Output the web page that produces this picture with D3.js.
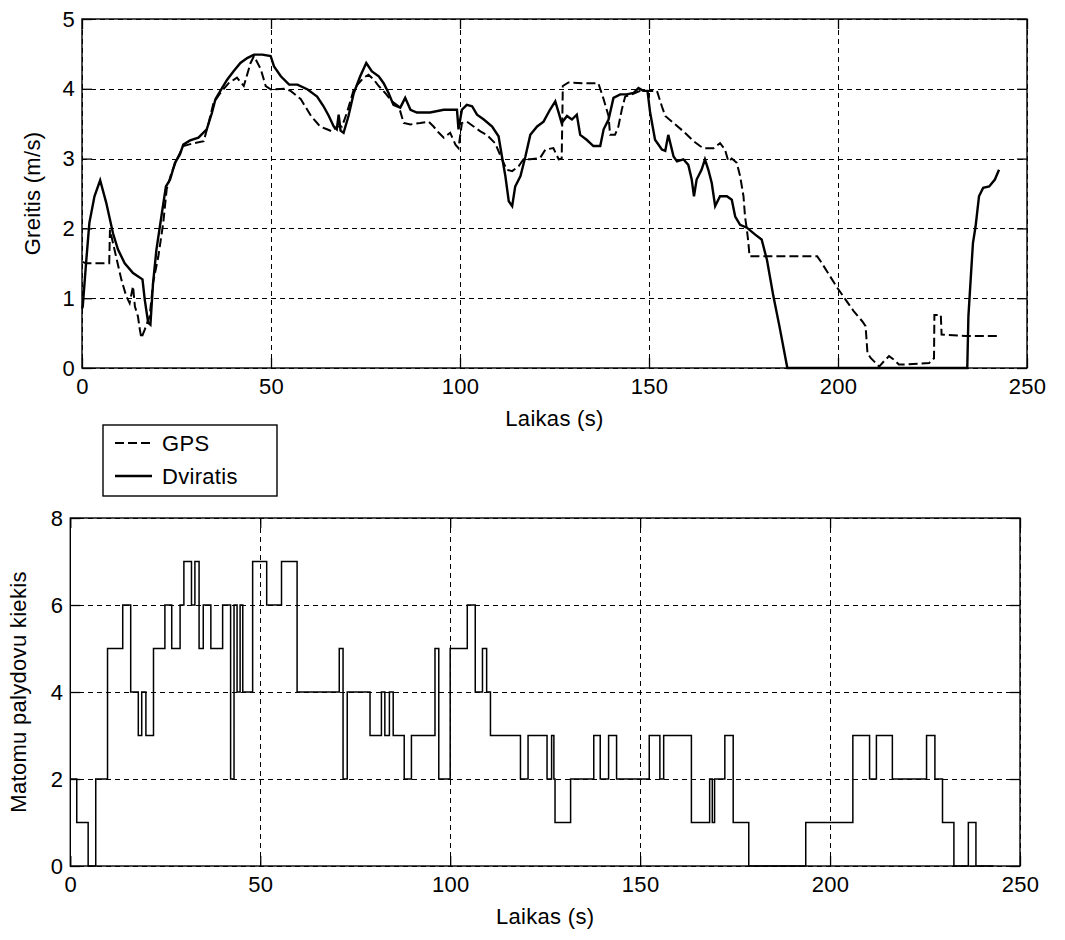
<!DOCTYPE html>
<html>
<head>
<meta charset="utf-8">
<script src="https://cdn.jsdelivr.net/npm/d3@7"></script>
<style>
  body { margin: 0; background: #fff; }
  text { font-family: "Liberation Sans", Arial, sans-serif; fill: #000; letter-spacing: 0.3px; }
</style>
</head>
<body>
<div id="canvas"></div>
<script>
"use strict";

// --- data ---
const timeTicks = [0, 50, 100, 150, 200, 250];
const speedTicks = [0, 1, 2, 3, 4, 5];
const satTicks = [0, 2, 4, 6, 8];

const gpsT = [0.2, 1, 4, 7.2, 7.4, 9, 10.4, 11.7, 12.6, 13.5, 14, 14.8, 15.3, 15.7, 16.6, 17.9, 18.8, 20.2, 21.5, 22.4,
  23.7, 25.1, 26.8, 29.5, 32.2, 33.5, 34.8, 36.6, 38.8, 41, 42.8, 44.6, 45.5, 47.3, 48.6, 50, 53.5, 55.2, 57.9, 60.6,
  62.2, 63, 64.8, 66.1, 67.5, 68.8, 70.1, 71.9, 73.2, 74.5, 75.8, 77.2, 78.5, 80.2, 82, 83.8, 85.1, 86.9, 89.5, 91.7,
  93, 94.4, 95.7, 97.4, 98.8, 99.6, 100.5, 101.8, 103.6, 105.4, 107.1, 109.3, 111.1, 112.4, 113.8, 115.5, 116.8, 118.6, 121.2, 122.6,
  124.7, 126.1, 126.9, 127.2, 128.7, 132.7, 136.6, 138, 139.3, 139.7, 141, 141.9, 142.8, 143.7, 145.5, 147.7, 150.3, 152.1, 153.4, 154.3,
  156.5, 159.1, 161.8, 163.5, 164.4, 167.1, 168.8, 170.1, 171, 171.9, 173.2, 174.1, 175, 175.4, 175.9, 176.3, 176.6, 187.3, 194.5, 195.4,
  197.6, 199.8, 202, 204.2, 206.4, 207.3, 207.8, 208.7, 210, 210.9, 212.2, 213.5, 214.8, 216.1, 217.9, 224.1, 225.4, 225.5, 227.2, 227.4,
  233.8, 242.2];
const gpsV = [1.52, 1.5, 1.5, 1.5, 1.98, 1.6, 1.27, 1.03, 0.93, 1.17, 0.88, 0.74, 0.55, 0.43, 0.55, 0.74, 1.22, 1.6, 2.08, 2.56,
  2.8, 2.99, 3.18, 3.22, 3.25, 3.51, 3.8, 3.94, 4.08, 4.16, 4.04, 4.37, 4.47, 4.28, 4.04, 3.99, 4.0, 3.97, 3.85, 3.61,
  3.51, 3.46, 3.42, 3.39, 3.46, 3.46, 3.66, 3.99, 4.08, 4.16, 4.2, 4.13, 4.04, 3.94, 3.82, 3.75, 3.51, 3.49, 3.51, 3.53,
  3.46, 3.37, 3.3, 3.37, 3.2, 3.15, 3.51, 3.53, 3.46, 3.39, 3.34, 3.22, 2.99, 2.84, 2.82, 2.89, 2.99, 2.99, 3.01, 3.13,
  3.15, 2.99, 3.0, 4.04, 4.09, 4.08, 4.08, 3.85, 3.61, 3.34, 3.34, 3.46, 3.7, 3.89, 3.92, 3.97, 3.97, 3.97, 3.75, 3.61,
  3.51, 3.39, 3.25, 3.18, 3.15, 3.15, 3.22, 3.13, 2.96, 3.0, 2.94, 2.75, 2.46, 2.17, 1.98, 1.79, 1.6, 1.6, 1.6, 1.53,
  1.34, 1.15, 0.98, 0.81, 0.67, 0.6, 0.21, 0.14, 0.07, 0.02, 0.1, 0.17, 0.12, 0.05, 0.05, 0.07, 0.14, 0.76, 0.76, 0.48,
  0.46, 0.46];

const bikeT = [0, 0.2, 1.07, 1.95, 3.3, 4.8, 6.4, 8.2, 9.5, 11.3, 13.5, 16, 16.6, 17.5, 18.1, 18.8, 19.7, 21, 22.2, 23.3,
  24.6, 25.9, 26.8, 28.6, 30.8, 33, 34.4, 35.3, 36.6, 38.4, 40.1, 41.9, 43.7, 45.5, 47.7, 49.9, 50.8, 52.6, 54.8, 57,
  59.7, 62.2, 63.9, 65.3, 66.6, 67.4, 67.9, 68.4, 69.2, 70.5, 71.9, 73.6, 75.2, 76.7, 78.5, 79.8, 81.1, 82.4, 84.2, 85.5,
  86.9, 88.6, 92.1, 95.7, 99.2, 99.6, 100.5, 101.8, 103.2, 104.5, 106.3, 108.5, 110.2, 111.1, 112, 112.9, 113.8, 114.6, 116, 117.3,
  118.6, 120.4, 122.1, 123.8, 125.2, 126.1, 126.9, 128.3, 129.6, 130.9, 131.8, 133.5, 135.3, 137.1, 138, 139.3, 140.6, 142.4, 144.1, 145.9,
  147.2, 148.5, 149.6, 150.3, 151.6, 153.4, 154.3, 155.1, 156.5, 157.4, 159.1, 160.4, 161.3, 161.9, 162.6, 163.9, 164.8, 165.7, 166.6, 167.5,
  168.8, 170.6, 171.9, 172.8, 174.1, 175.9, 178.1, 179.8, 181.2, 182.9, 184.5, 186.6, 234.2, 234.5, 235.1, 235.7, 236.4, 237.3, 238.4, 240,
  241.5, 242.6];
const bikeV = [0.85, 0.88, 1.5, 2.08, 2.46, 2.69, 2.37, 1.93, 1.7, 1.5, 1.36, 1.27, 0.98, 0.65, 0.62, 1.22, 1.7, 2.17, 2.6, 2.7,
  2.94, 3.06, 3.2, 3.26, 3.3, 3.42, 3.66, 3.85, 3.97, 4.13, 4.25, 4.37, 4.44, 4.49, 4.49, 4.47, 4.32, 4.18, 4.06, 4.06,
  3.99, 3.89, 3.75, 3.61, 3.46, 3.42, 3.63, 3.4, 3.37, 3.61, 3.94, 4.18, 4.37, 4.25, 4.18, 4.08, 3.94, 3.77, 3.73, 3.87,
  3.7, 3.66, 3.66, 3.7, 3.7, 3.42, 3.7, 3.77, 3.75, 3.63, 3.56, 3.46, 3.32, 3.03, 2.75, 2.39, 2.32, 2.6, 2.75, 3.03,
  3.34, 3.46, 3.53, 3.7, 3.82, 3.66, 3.51, 3.61, 3.56, 3.63, 3.34, 3.27, 3.18, 3.18, 3.42, 3.56, 3.87, 3.92, 3.92, 3.94,
  4.01, 3.97, 3.97, 3.66, 3.27, 3.13, 3.11, 3.34, 3.03, 2.96, 2.99, 2.91, 2.7, 2.46, 2.7, 2.84, 2.99, 2.84, 2.65, 2.32,
  2.46, 2.46, 2.41, 2.17, 2.05, 2.01, 1.91, 1.84, 1.55, 1.03, 0.6, 0, 0, 0.74, 1.27, 1.79, 2.03, 2.46, 2.58, 2.6,
  2.7, 2.84];

// satellites: value holds from each time until the next one
const satT = [0, 1.7, 4.7, 6.7, 9.8, 13.8, 15.9, 17.9, 18.8, 19.9, 21.9, 24.9, 26.7, 28.9, 29.9, 31.9, 32.8, 33.9, 35, 37,
  40.1, 42.2, 43.1, 43.9, 44.7, 45.4, 48, 51.7, 55.6, 59.7, 70.8, 71.8, 72.9, 78.9, 81.9, 82.8, 84, 85, 87.9, 89.8,
  96, 97, 100, 104.5, 106.6, 108.5, 109.6, 110.6, 118.5, 120.5, 125.5, 126.7, 127.3, 127.6, 131.7, 137.8, 139.5, 141.7, 143.8, 152.4,
  155.2, 156.2, 163.5, 168.3, 169, 169.6, 172.3, 174.5, 178.6, 193.6, 206, 210.4, 212.2, 216.4, 225.4, 227.6, 229.6, 232.6, 236.4, 238.4,
  243];
const satN = [2, 1, 0, 2, 5, 6, 4, 3, 4, 3, 5, 6, 5, 6, 7, 6, 7, 5, 6, 5,
  6, 2, 6, 4, 6, 4, 7, 6, 7, 4, 5, 2, 4, 3, 4, 3, 4, 3, 2, 3,
  5, 2, 5, 6, 4, 5, 4, 3, 2, 3, 2, 3, 2, 1, 2, 3, 2, 3, 2, 3,
  2, 3, 1, 2, 1, 2, 3, 1, 0, 1, 3, 2, 3, 2, 3, 2, 1, 0, 1, 0,
  0];

const svg = d3.select("#canvas").append("svg")
  .attr("width", 1065)
  .attr("height", 940);

svg.append("rect").attr("width", 1065).attr("height", 940).attr("fill", "white");

const FONT = 22;

function panel(box, yDomain, yTicks, yLabel) {
  const g = svg.append("g");
  const x = d3.scaleLinear().domain([0, 250]).range([box.left, box.right]);
  const y = d3.scaleLinear().domain(yDomain).range([box.bottom, box.top]);
  const w = box.right - box.left;
  const h = box.bottom - box.top;

  // dotted grid
  g.append("g")
    .attr("transform", "translate(0," + box.bottom + ")")
    .call(d3.axisBottom(x).tickValues(timeTicks).tickSize(-h).tickFormat(""))
    .call(a => a.select(".domain").remove())
    .selectAll("line").attr("stroke", "#000").attr("stroke-width", 1)
    .attr("stroke-dasharray", "5,4").attr("shape-rendering", "crispEdges");
  g.append("g")
    .attr("transform", "translate(" + box.left + ",0)")
    .call(d3.axisLeft(y).tickValues(yTicks).tickSize(-w).tickFormat(""))
    .call(a => a.select(".domain").remove())
    .selectAll("line").attr("stroke", "#000").attr("stroke-width", 1)
    .attr("stroke-dasharray", "5,4").attr("shape-rendering", "crispEdges");

  // inner tick marks on all four sides
  const tk = 10;
  const sides = [
    [d3.axisBottom(x).tickValues(timeTicks), "translate(0," + box.bottom + ")"],
    [d3.axisTop(x).tickValues(timeTicks), "translate(0," + box.top + ")"],
    [d3.axisLeft(y).tickValues(yTicks), "translate(" + box.left + ",0)"],
    [d3.axisRight(y).tickValues(yTicks), "translate(" + box.right + ",0)"]
  ];
  sides.forEach(([ax, tr]) => {
    g.append("g").attr("transform", tr)
      .call(ax.tickSize(-tk).tickFormat(""))
      .call(a => a.select(".domain").remove())
      .selectAll("line").attr("stroke", "#000").attr("stroke-width", 1.3);
  });

  // tick labels
  g.append("g")
    .attr("transform", "translate(0," + box.bottom + ")")
    .call(d3.axisBottom(x).tickValues(timeTicks).tickSize(0).tickPadding(10).tickFormat(d3.format("d")))
    .call(a => a.select(".domain").remove())
    .selectAll("text").attr("font-size", FONT).attr("font-family", null);
  g.append("g")
    .attr("transform", "translate(" + box.left + ",0)")
    .call(d3.axisLeft(y).tickValues(yTicks).tickSize(0).tickPadding(7).tickFormat(d3.format("d")))
    .call(a => a.select(".domain").remove())
    .selectAll("text").attr("font-size", FONT).attr("font-family", null);

  // frame
  g.append("rect")
    .attr("x", box.left).attr("y", box.top)
    .attr("width", w).attr("height", h)
    .attr("fill", "none").attr("stroke", "#000").attr("stroke-width", 1.4);

  // axis titles
  g.append("text")
    .attr("x", (box.left + box.right) / 2)
    .attr("y", box.bottom + 58)
    .attr("text-anchor", "middle")
    .attr("font-size", FONT)
    .text("Laikas (s)");
  g.append("text")
    .attr("transform", "translate(" + box.yLabelX + "," + (box.top + box.bottom) / 2 + ") rotate(-90)")
    .attr("text-anchor", "middle")
    .attr("font-size", FONT)
    .text(yLabel);

  return { g, x, y };
}

// --- top: speed ---
const speedPanel = panel({ left: 82, right: 1027, top: 19, bottom: 368, yLabelX: 40 }, [0, 5], speedTicks, "Greitis (m/s)");

const speedLine = d3.line().x(d => speedPanel.x(d[0])).y(d => speedPanel.y(d[1]));

speedPanel.g.append("path")
  .datum(gpsT.map((t, i) => [t, gpsV[i]]))
  .attr("d", speedLine)
  .attr("fill", "none").attr("stroke", "#000").attr("stroke-width", 2)
  .attr("stroke-dasharray", "9,4");

speedPanel.g.append("path")
  .datum(bikeT.map((t, i) => [t, bikeV[i]]))
  .attr("d", speedLine)
  .attr("fill", "none").attr("stroke", "#000").attr("stroke-width", 2.4);

// legend
const lg = svg.append("g");
lg.append("rect")
  .attr("x", 103).attr("y", 425).attr("width", 174).attr("height", 71)
  .attr("fill", "white").attr("stroke", "#000").attr("stroke-width", 1.4);
lg.append("line").attr("x1", 115).attr("x2", 152).attr("y1", 443).attr("y2", 443)
  .attr("stroke", "#000").attr("stroke-width", 2).attr("stroke-dasharray", "9,4");
lg.append("line").attr("x1", 115).attr("x2", 152).attr("y1", 476).attr("y2", 476)
  .attr("stroke", "#000").attr("stroke-width", 2.4);
lg.append("text").attr("x", 162).attr("y", 451).attr("font-size", FONT).text("GPS");
lg.append("text").attr("x", 162).attr("y", 484).attr("font-size", FONT).text("Dviratis");

// --- bottom: satellites ---
const satPanel = panel({ left: 70.3, right: 1020, top: 518, bottom: 866, yLabelX: 26 }, [0, 8], satTicks, "Matomu palydovu kiekis");

satPanel.g.append("path")
  .datum(satT.map((t, i) => [t, satN[i]]))
  .attr("d", d3.line().x(d => satPanel.x(d[0])).y(d => satPanel.y(d[1])).curve(d3.curveStepAfter))
  .attr("fill", "none").attr("stroke", "#000").attr("stroke-width", 1.5);
</script>
</body>
</html>
